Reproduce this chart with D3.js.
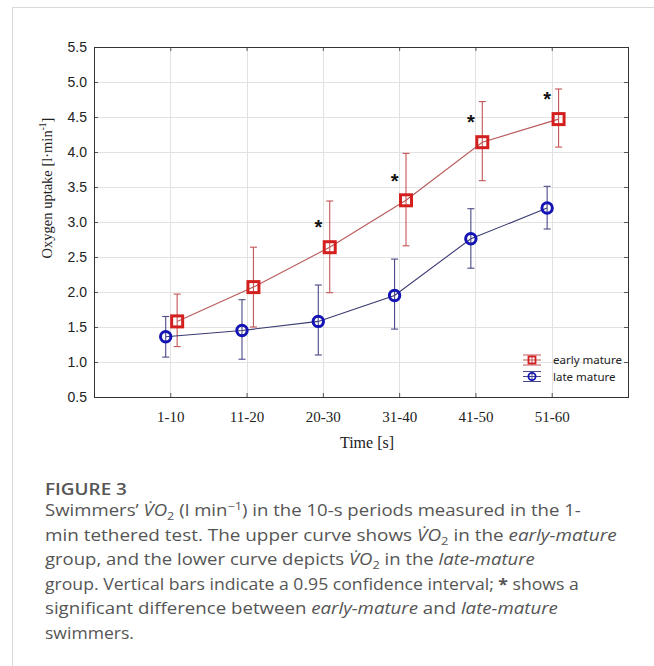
<!DOCTYPE html>
<html>
<head>
<meta charset="utf-8">
<script src="https://cdn.jsdelivr.net/npm/d3@7"></script>
<style>
  body { margin: 0; background: #fff; }
  svg { display: block; }
</style>
</head>
<body>
<div id="chart"></div>
<script>
// values (l/min)
var periods = ["1-10", "11-20", "20-30", "31-40", "41-50", "51-60"];
var earlyMean = [1.58, 2.07, 2.64, 3.31, 4.14, 4.47];
var earlyLow = [1.22, 1.50, 1.99, 2.66, 3.59, 4.07];
var earlyHigh = [1.97, 2.64, 3.30, 3.98, 4.72, 4.90];
var lateMean = [1.36, 1.45, 1.58, 1.95, 2.76, 3.20];
var lateLow = [1.07, 1.04, 1.10, 1.47, 2.34, 2.90];
var lateHigh = [1.65, 1.89, 2.10, 2.47, 3.19, 3.51];
var significant = [false, false, true, true, true, true];
var yTicks = [0.5, 1.0, 1.5, 2.0, 2.5, 3.0, 3.5, 4.0, 4.5, 5.0, 5.5];

var W = 654, H = 666;
var margin = { left: 94, top: 47, right: 26, bottom: 269 };
var width = W - margin.left - margin.right;
var height = H - margin.top - margin.bottom;

var svg = d3.select("#chart").append("svg")
    .attr("width", W)
    .attr("height", H);

// page frame lines
svg.append("line").attr("x1", 12.5).attr("x2", 12.5).attr("y1", 7).attr("y2", H)
    .attr("stroke", "#d9d9d9");
svg.append("line").attr("x1", 12).attr("x2", W).attr("y1", 7.5).attr("y2", 7.5)
    .attr("stroke", "#d9d9d9");

var g = svg.append("g")
    .attr("transform", "translate(" + margin.left + "," + margin.top + ")");

var x = d3.scaleLinear().domain([0, 7]).range([0, width]);
var y = d3.scaleLinear().domain([0.5, 5.5]).range([height, 0]);

var series = [
    { name: "early mature", mean: earlyMean, low: earlyLow, high: earlyHigh, shift: 0.09,
      mark: "#d41f1f", line: "#b85a5a", bar: "#c45555" },
    { name: "late mature", mean: lateMean, low: lateLow, high: lateHigh, shift: -0.06,
      mark: "#1414b4", line: "#3a3a72", bar: "#4a4a88" }
];

// grid
g.append("g").selectAll("line").data(yTicks).enter().append("line")
    .attr("x1", 0).attr("x2", width)
    .attr("y1", function (d) { return Math.round(y(d)) + 0.5; })
    .attr("y2", function (d) { return Math.round(y(d)) + 0.5; })
    .attr("stroke", "#e2e2e2");
g.append("g").selectAll("line").data(periods).enter().append("line")
    .attr("y1", 0).attr("y2", height)
    .attr("x1", function (d, i) { return Math.round(x(i + 1)) + 0.5; })
    .attr("x2", function (d, i) { return Math.round(x(i + 1)) + 0.5; })
    .attr("stroke", "#e2e2e2");

// axes, ticks pointing inside
var catTicks = periods.map(function (d, i) { return i + 1; });
var yAxis = g.append("g").call(d3.axisLeft(y).tickValues(yTicks).tickSize(-4).tickPadding(7)
    .tickFormat(d3.format(".1f")));
var yAxisR = g.append("g").attr("transform", "translate(" + width + ",0)")
    .call(d3.axisRight(y).tickValues(yTicks).tickSize(-4).tickFormat(""));
var xAxis = g.append("g").attr("transform", "translate(0," + height + ")")
    .call(d3.axisBottom(x).tickValues(catTicks).tickSize(-4).tickPadding(14)
        .tickFormat(function (d) { return periods[d - 1]; }));
var xAxisT = g.append("g")
    .call(d3.axisTop(x).tickValues(catTicks).tickSize(-4).tickFormat(""));
g.selectAll(".domain").remove();
g.selectAll(".tick line").attr("stroke", "#555");
yAxis.selectAll("text")
    .attr("font-family", "'Liberation Sans', Arial, sans-serif")
    .attr("font-size", "14px")
    .attr("fill", "#222");
xAxis.selectAll("text")
    .attr("font-family", "'Liberation Serif', 'Times New Roman', serif")
    .attr("font-size", "15px")
    .attr("fill", "#222");

g.append("rect")
    .attr("x", 0.5).attr("y", 0.5)
    .attr("width", width).attr("height", height)
    .attr("fill", "none").attr("stroke", "#333");

// axis titles
g.append("text")
    .attr("x", 273).attr("y", height + 51)
    .attr("text-anchor", "middle")
    .attr("font-family", "'Liberation Serif', 'Times New Roman', serif")
    .attr("font-size", "16px")
    .attr("fill", "#222")
    .text("Time [s]");
var yTitle = g.append("text")
    .attr("transform", "translate(-42,141) rotate(-90)")
    .attr("text-anchor", "middle")
    .attr("font-family", "'Liberation Serif', 'Times New Roman', serif")
    .attr("font-size", "14.5px")
    .attr("fill", "#222");
yTitle.append("tspan").text("Oxygen uptake  [l·min");
yTitle.append("tspan").attr("font-size", "9.5px").attr("dy", -6).text("-1");
yTitle.append("tspan").attr("dy", 6).text("]");

// series
series.forEach(function (s) {
    var px = function (i) { return x(i + 1 + s.shift); };
    var sg = g.append("g");
    sg.append("path")
        .datum(s.mean)
        .attr("fill", "none")
        .attr("stroke", s.line)
        .attr("stroke-width", 1.1)
        .attr("d", d3.line().x(function (d, i) { return px(i); }).y(function (d) { return y(d); }));

    var bars = sg.selectAll(".err").data(s.mean).enter().append("g").attr("class", "err")
        .attr("stroke", s.bar).attr("stroke-width", 1.1);
    bars.append("line")
        .attr("x1", function (d, i) { return px(i); })
        .attr("x2", function (d, i) { return px(i); })
        .attr("y1", function (d, i) { return y(s.low[i]); })
        .attr("y2", function (d, i) { return y(s.high[i]); });
    bars.append("line")
        .attr("x1", function (d, i) { return px(i) - 3.5; })
        .attr("x2", function (d, i) { return px(i) + 3.5; })
        .attr("y1", function (d, i) { return y(s.low[i]); })
        .attr("y2", function (d, i) { return y(s.low[i]); });
    bars.append("line")
        .attr("x1", function (d, i) { return px(i) - 3.5; })
        .attr("x2", function (d, i) { return px(i) + 3.5; })
        .attr("y1", function (d, i) { return y(s.high[i]); })
        .attr("y2", function (d, i) { return y(s.high[i]); });

    if (s.name === "early mature") {
        sg.selectAll(".mk").data(s.mean).enter().append("rect").attr("class", "mk")
            .attr("x", function (d, i) { return px(i) - 5.5; })
            .attr("y", function (d) { return y(d) - 5.5; })
            .attr("width", 11).attr("height", 11)
            .attr("fill", "none")
            .attr("stroke", s.mark).attr("stroke-width", 3);
    } else {
        sg.selectAll(".mk").data(s.mean).enter().append("circle").attr("class", "mk")
            .attr("cx", function (d, i) { return px(i); })
            .attr("cy", function (d) { return y(d); })
            .attr("r", 5.2)
            .attr("fill", "none")
            .attr("stroke", s.mark).attr("stroke-width", 3);
    }
});

// significance stars
g.selectAll(".star").data(earlyMean).enter()
    .filter(function (d, i) { return significant[i]; })
    .append("text").attr("class", "star")
    .attr("x", function (d) { return x(earlyMean.indexOf(d) + 1 - 0.06); })
    .attr("y", function (d) { return y(d + 0.34) + 11; })
    .attr("text-anchor", "middle")
    .attr("font-family", "'Liberation Sans', Arial, sans-serif")
    .attr("font-weight", "bold")
    .attr("font-size", "20px")
    .attr("fill", "#111")
    .text("*");

// legend
var legend = g.append("g").attr("transform", "translate(" + (532 - margin.left) + "," + (360 - margin.top) + ")");
series.forEach(function (s, k) {
    var lg = legend.append("g").attr("transform", "translate(0," + (k * 16.5) + ")");
    lg.selectAll("line.cap").data([-5, 0, 5]).enter().append("line")
        .attr("x1", -9).attr("x2", 9)
        .attr("y1", function (d) { return d; }).attr("y2", function (d) { return d; })
        .attr("stroke", s.bar).attr("stroke-width", 1);
    lg.append("line").attr("x1", 0).attr("x2", 0).attr("y1", -5).attr("y2", 5)
        .attr("stroke", s.bar).attr("stroke-width", 1);
    if (k === 0) {
        lg.append("rect").attr("x", -3.5).attr("y", -3.5).attr("width", 7).attr("height", 7)
            .attr("fill", "none").attr("stroke", s.mark).attr("stroke-width", 1.8);
    } else {
        lg.append("circle").attr("r", 3.6)
            .attr("fill", "none").attr("stroke", s.mark).attr("stroke-width", 1.8);
    }
    lg.append("text")
        .attr("x", 21).attr("y", 0).attr("dy", "0.35em")
        .attr("font-family", "'Noto Sans', 'Open Sans', sans-serif")
        .attr("font-size", "11.5px")
        .attr("fill", "#222")
        .text(s.name);
});

// caption: the original face is wider than Open Sans, so each line is
// stretched to the width it has in the figure
var capFont = "'Open Sans', 'Noto Sans', sans-serif";
var capX = 45;
function fitLine(t, y0, w) {
    var len = t.node().getComputedTextLength();
    t.attr("transform", "translate(" + capX + "," + y0 + ") scale(" + (w / len) + ",1)");
}
var head = svg.append("text")
    .attr("font-family", capFont)
    .attr("font-size", "16px")
    .attr("font-weight", 600)
    .attr("fill", "#555")
    .text("FIGURE 3");
fitLine(head, 495, 82);

var vo = [{ t: "V\u0307O", i: true }, { t: "2", sub: true }];
var capLines = [
    [{ t: "Swimmers\u2019 " }].concat(vo, [{ t: " (l min" }, { t: "\u22121", sup: true }, { t: ") in the 10-s periods measured in the 1-" }]),
    [{ t: "min tethered test. The upper curve shows " }].concat(vo, [{ t: " in the " }, { t: "early-mature", i: true }]),
    [{ t: "group, and the lower curve depicts " }].concat(vo, [{ t: " in the " }, { t: "late-mature", i: true }]),
    [{ t: "group. Vertical bars indicate a 0.95 confidence interval; " }, { t: "*", b: true }, { t: " shows a" }],
    [{ t: "significant difference between " }, { t: "early-mature", i: true }, { t: " and " }, { t: "late-mature", i: true }],
    [{ t: "swimmers." }]
];
var capWidths = [536, 572, 490, 534, 513, 89];
capLines.forEach(function (segs, k) {
    var t = svg.append("text")
        .attr("font-family", capFont)
        .attr("font-size", "16px")
        .attr("fill", "#555");
    var shift = 0;
    segs.forEach(function (s) {
        var dy = 0;
        if (s.sub) dy = 4;
        if (s.sup) dy = -6;
        var sp = t.append("tspan").attr("dy", dy - shift).text(s.t);
        shift = dy;
        if (s.i) sp.attr("font-style", "italic");
        if (s.b) sp.attr("font-weight", "bold");
        if (s.sub || s.sup) sp.attr("font-size", "11px");
    });
    fitLine(t, 516 + k * 24.6, capWidths[k]);
});
</script>
</body>
</html>
